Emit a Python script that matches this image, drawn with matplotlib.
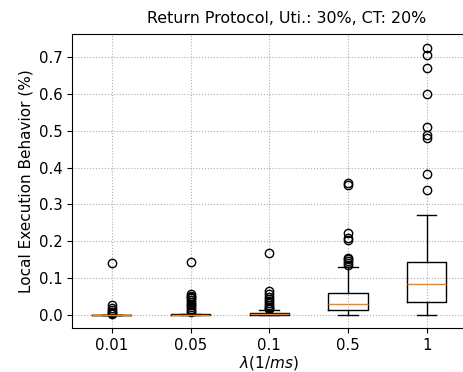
import matplotlib
matplotlib.use("Agg")
import matplotlib.pyplot as plt

# x categories (arrival rate)
rates = ["0.01", "0.05", "0.1", "0.5", "1"]

# box statistics
medians = [0.0, 0.0, 0.001, 0.029, 0.083]
q1s = [0.0, 0.0, 0.0, 0.013, 0.034]
q3s = [0.0, 0.002, 0.005, 0.060, 0.143]
whis_lo = [0.0, 0.0, 0.0, 0.0, 0.0]
whis_hi = [0.0, 0.003, 0.012, 0.129, 0.270]
fliers = [
    [0.140, 0.026, 0.017, 0.012, 0.008, 0.005, 0.003],
    [0.143, 0.055, 0.052, 0.048, 0.044, 0.040, 0.035, 0.030, 0.025,
     0.020, 0.015, 0.010, 0.007],
    [0.167, 0.063, 0.055, 0.048, 0.043, 0.038, 0.032, 0.027, 0.022,
     0.018, 0.014],
    [0.358, 0.353, 0.222, 0.208, 0.202, 0.155, 0.150, 0.145, 0.140, 0.135],
    [0.726, 0.706, 0.671, 0.599, 0.510, 0.488, 0.479, 0.383, 0.338],
]


def main():
    stats = []
    for i, label in enumerate(rates):
        stats.append({
            "label": label,
            "med": medians[i],
            "q1": q1s[i],
            "q3": q3s[i],
            "whislo": whis_lo[i],
            "whishi": whis_hi[i],
            "fliers": fliers[i],
        })

    fig = plt.figure(figsize=(4.64, 3.72), dpi=100)
    ax = fig.add_axes([0.1562, 0.1183, 0.848, 0.7895])
    ax.bxp(stats, showfliers=True)

    # the original figure is cropped on the right, title sits right of centre
    ax.set_title("Return Protocol, Uti.: 30%, CT: 20%", fontsize=11.4,
                 x=0.544, pad=8)
    ax.set_xlabel(r"$\lambda(1/ms)$", fontsize=11, labelpad=1)
    ax.set_ylabel("Local Execution Behavior (%)", fontsize=11)
    ax.tick_params(labelsize=10.7)
    ax.grid(linestyle=":", color="#b0b0b0", linewidth=0.8)
    ax.set_axisbelow(True)
    ax.spines["right"].set_visible(False)

    fig.savefig("out.png", dpi=100)


if __name__ == "__main__":
    main()
